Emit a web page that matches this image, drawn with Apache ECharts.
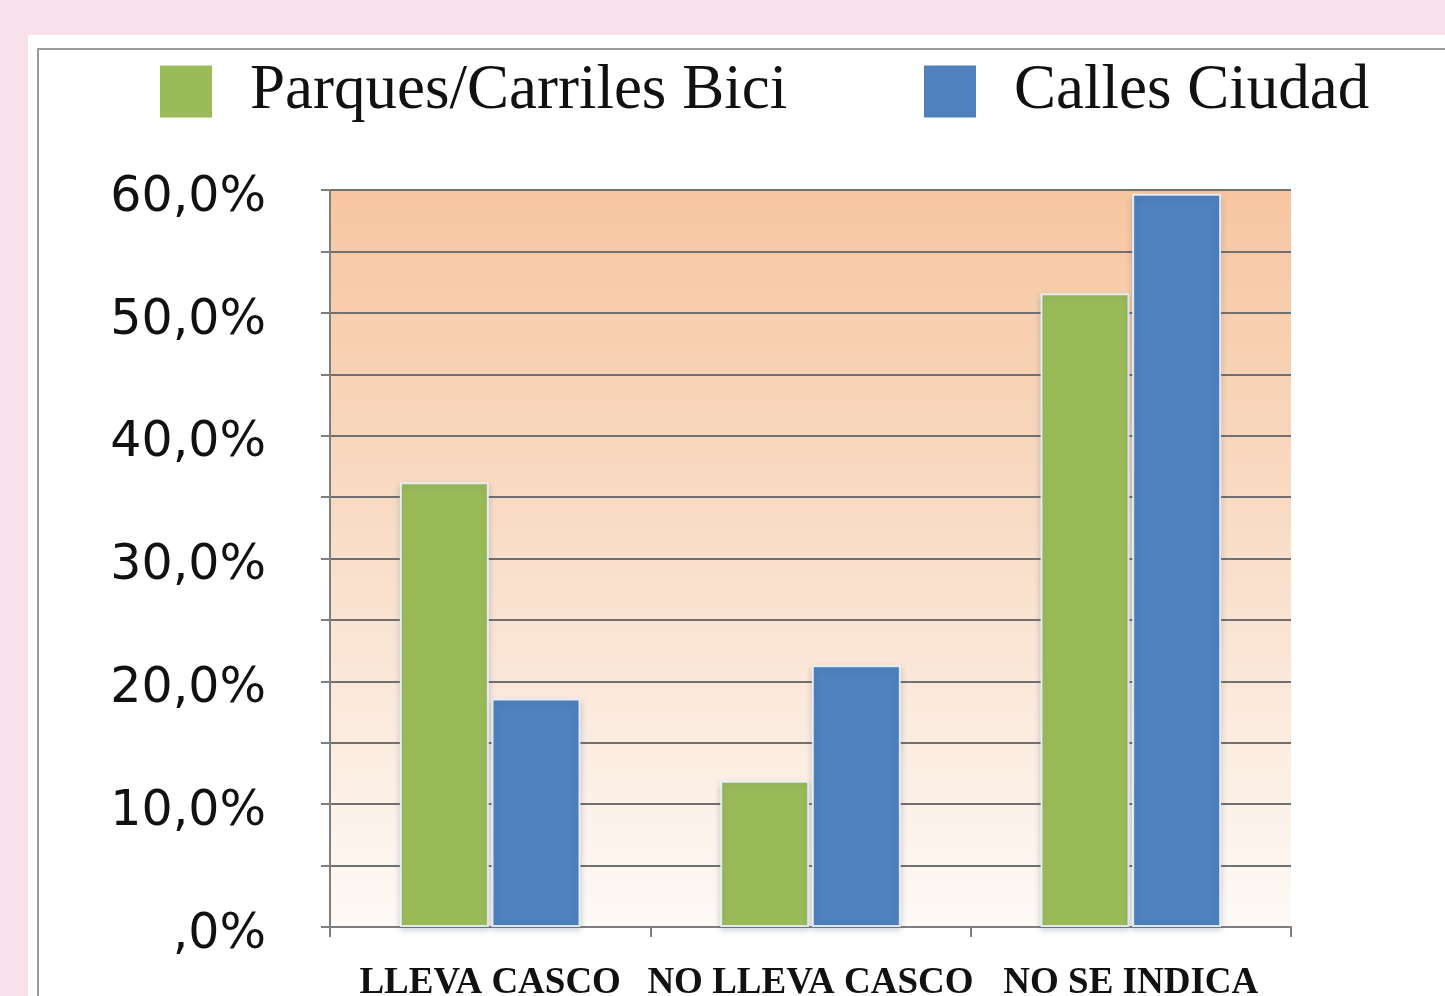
<!DOCTYPE html>
<html lang="es">
<head>
    <meta charset="UTF-8">
    <title>Uso de casco</title>
    <script src="https://cdn.jsdelivr.net/npm/echarts@6/dist/echarts.min.js" charset="utf-8"></script>
    <style>
        html, body { margin: 0; padding: 0; width: 1445px; height: 996px; overflow: hidden; background: #f9e1eb; }
        #panel { position: absolute; left: 28px; top: 35px; right: 0; bottom: 0; background: #fff; }
        #frame { position: absolute; left: 37px; top: 48px; right: -4px; bottom: -4px; border: 2px solid #9a9a9a; }
        #main { position: absolute; left: 0; top: 0; width: 1445px; height: 996px; }
    </style>
</head>
<body>
<div id="panel"></div>
<div id="frame"></div>
<div id="main"></div>
<script>
    var categories = ['LLEVA CASCO', 'NO LLEVA CASCO', 'NO SE INDICA'];
    var seriesNames = ['Parques/Carriles Bici', 'Calles Ciudad'];
    var parques = [36.2, 11.9, 51.6];
    var calles = [18.6, 21.3, 59.7];
    var colors = ['#9bbb59', '#4f81bd'];

    var myChart = echarts.init(document.getElementById('main'));

    // una leyenda por serie, para colocarlas como en el original
    function legendAt(name, left) {
        return {
            data: [name],
            left: left,
            top: 55,
            itemWidth: 52,
            itemHeight: 52,
            icon: 'rect',
            selectedMode: false,
            itemStyle: {borderWidth: 0, shadowBlur: 0},
            textStyle: {
                fontFamily: 'Liberation Serif',
                fontSize: 63,
                color: '#111',
                padding: [0, 0, 0, 33]
            }
        };
    }

    function barSeries(name, data, color) {
        return {
            name: name,
            type: 'bar',
            data: data,
            barWidth: 89,
            barGap: '3%',
            itemStyle: {
                color: color,
                borderColor: 'rgba(235,242,250,0.9)',
                borderWidth: 2,
                shadowColor: 'rgba(60,80,120,0.25)',
                shadowBlur: 6,
                shadowOffsetY: 3
            }
        };
    }

    var option = {
        animation: false,
        color: colors,
        legend: [legendAt(seriesNames[0], 155), legendAt(seriesNames[1], 919)],
        grid: {
            left: 330,
            right: 154,
            top: 190,
            bottom: 69,
            outerBoundsMode: 'none',
            show: true,
            borderWidth: 0,
            backgroundColor: new echarts.graphic.LinearGradient(0, 0, 0, 1, [
                {offset: 0, color: '#f7c6a0'},
                {offset: 0.45, color: '#f9dcc6'},
                {offset: 1, color: '#fefaf6'}
            ])
        },
        xAxis: {
            type: 'category',
            data: categories,
            axisLine: {lineStyle: {color: '#7e7e7e', width: 2}},
            axisTick: {show: true, length: 10, lineStyle: {color: '#7e7e7e', width: 2}},
            axisLabel: {
                interval: 0,
                hideOverlap: false,
                margin: 38,
                fontFamily: 'Liberation Serif',
                fontWeight: 'bold',
                fontSize: 37,
                color: '#111'
            }
        },
        yAxis: {
            type: 'value',
            min: 0,
            max: 60,
            interval: 5,
            axisLine: {show: true, lineStyle: {color: '#7e7e7e', width: 2}},
            axisTick: {show: true, length: 9, lineStyle: {color: '#7e7e7e', width: 2}},
            splitLine: {lineStyle: {color: '#707070', width: 2}},
            axisLabel: {
                margin: 64,
                formatter: function (v) {
                    if (v % 10 !== 0) return '';
                    return '{t|' + (v === 0 ? ',0%' : v + ',0%') + '}';
                },
                rich: {
                    t: {
                        fontFamily: 'DejaVu Sans',
                        fontSize: 49,
                        color: '#111',
                        padding: [16, 0, 0, 0]
                    }
                }
            }
        },
        series: [
            barSeries(seriesNames[0], parques, colors[0]),
            barSeries(seriesNames[1], calles, colors[1])
        ]
    };

    myChart.setOption(option);
</script>
</body>
</html>
